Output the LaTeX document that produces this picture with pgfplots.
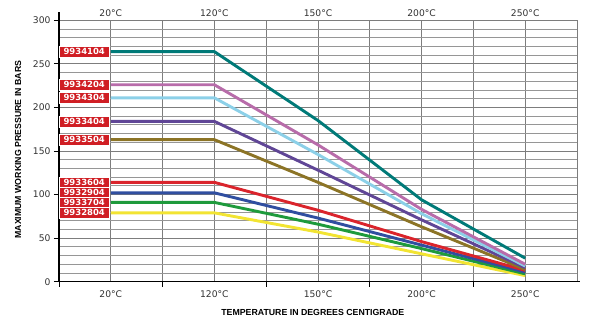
\documentclass[border=0pt]{standalone}
\usepackage{pgfplots}
\pgfplotsset{compat=1.18}
\usepackage{fontspec}
\setmainfont{DejaVu Sans}
\newfontfamily\titlefont{Liberation Sans}
\definecolor{cteal}{RGB}{0,122,120}
\definecolor{cpink}{RGB}{184,108,170}
\definecolor{clblue}{RGB}{140,208,232}
\definecolor{cpurple}{RGB}{96,70,150}
\definecolor{colive}{RGB}{140,116,38}
\definecolor{cred}{RGB}{218,36,44}
\definecolor{cblue}{RGB}{48,78,160}
\definecolor{cgreen}{RGB}{30,154,60}
\definecolor{cyellow}{RGB}{242,228,50}
\definecolor{boxred}{RGB}{208,30,36}
\definecolor{ticktext}{RGB}{50,50,50}
\definecolor{gmajor}{RGB}{125,125,125}
\definecolor{gminor}{RGB}{150,150,150}
\begin{document}
\begin{tikzpicture}
\begin{axis}[
  scale only axis, width=518bp, height=261.4bp,
  xmin=0, xmax=10, ymin=0, ymax=300,
  axis lines=left,
  axis line style={-, black, line width=1.4bp},
  y axis line style={shorten >=-8bp},
  x axis line style={shorten >=-3bp},
  tick align=outside,
  xtick={1,...,10},
  xticklabels={20°C,,120°C,,150°C,,200°C,,250°C,},
  xtick style={draw=none},
  extra x ticks={0,2,4,6,8},
  extra x tick labels={},
  extra x tick style={grid=none, xtick style={draw=black}},
  ytick={0,50,...,300},
  minor ytick={10,20,...,290},
  grid=both,
  major grid style={draw=gmajor, line width=0.8bp},
  minor grid style={draw=gminor, line width=0.8bp},
  major tick length=5bp, minor tick length=0pt,
  tick style={black, line width=0.8bp},
  tick label style={font=\fontsize{9.2}{10}\selectfont, text=ticktext},
  /pgf/number format/assume math mode=true,
  xlabel={TEMPERATURE IN DEGREES CENTIGRADE},
  ylabel={MAXIMUM WORKING PRESSURE IN BARS},
  xlabel style={font=\titlefont\bfseries\fontsize{8.8}{10}\selectfont, at={(axis description cs:0.49,0)}, anchor=center, yshift=-31bp},
  ylabel style={font=\titlefont\bfseries\fontsize{8.8}{10}\selectfont, at={(axis description cs:0,0.505)}, anchor=center, yshift=41bp},
  every axis plot/.append style={line width=2.9bp, line join=round, no markers},
]
\addplot[cyellow] coordinates {(1,79) (3,79) (5,57) (7,32) (9,7)};
\addplot[cgreen] coordinates {(1,91) (3,91) (5,66) (7,38) (9,9)};
\addplot[cblue] coordinates {(1,102) (3,102) (5,73) (7,42) (9,11)};
\addplot[cred] coordinates {(1,114) (3,114) (5,82) (7,46) (9,13)};
\addplot[colive] coordinates {(1,163) (3,163) (5,114) (7,63) (9,14)};
\addplot[cpurple] coordinates {(1,184) (3,184) (5,128) (7,71) (9,16)};
\addplot[clblue] coordinates {(1,211) (3,211) (5,146) (7,78) (9,18)};
\addplot[cpink] coordinates {(1,226) (3,226) (5,157) (7,83) (9,20)};
\addplot[cteal] coordinates {(1,264) (3,264) (5,185) (7,94) (9,27)};
\tikzset{lbl/.style={fill=boxred, draw=white, line width=0.5bp, text=white, font=\bfseries\fontsize{8.5}{9}\selectfont, minimum width=50.5bp, minimum height=10.8bp, inner sep=0pt}}
\node[lbl] at (axis cs:0.487,264) {9934104};
\node[lbl] at (axis cs:0.487,226) {9934204};
\node[lbl] at (axis cs:0.487,211) {9934304};
\node[lbl] at (axis cs:0.487,184) {9933404};
\node[lbl] at (axis cs:0.487,163) {9933504};
\node[lbl] at (axis cs:0.487,114) {9933604};
\node[lbl] at (axis cs:0.487,102) {9932904};
\node[lbl] at (axis cs:0.487,90.5) {9933704};
\node[lbl] at (axis cs:0.487,79) {9932804};
\end{axis}
\begin{axis}[
  scale only axis, width=518bp, height=261.4bp,
  xmin=0, xmax=10, ymin=0, ymax=300,
  axis x line*=top, axis y line=none,
  axis line style={draw=none},
  xtick={1,3,5,7,9},
  xticklabels={20°C,120°C,150°C,200°C,250°C},
  ytick=\empty,
  major tick length=0pt,
  tick label style={font=\fontsize{9.2}{10}\selectfont, text=ticktext},
]
\end{axis}
\pgfresetboundingbox
\path[use as bounding box] (-59bp,-46.3bp) rectangle (541bp,281.7bp);
\end{tikzpicture}
\end{document}
